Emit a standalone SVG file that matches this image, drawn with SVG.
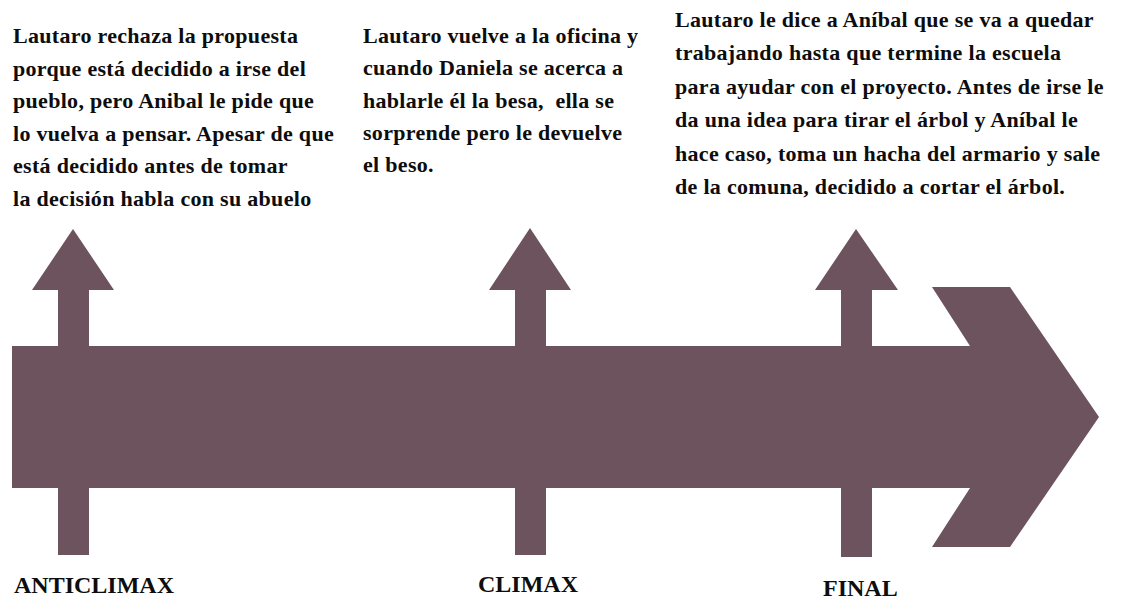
<svg xmlns="http://www.w3.org/2000/svg" width="1124" height="599" viewBox="0 0 1124 599">
<style>
.shape{fill:#6c535e}
.t{font-family:"Liberation Serif","Times New Roman",serif;font-weight:bold;font-size:22px;fill:#0d0d0d;letter-spacing:0.3px}
.lbl{font-family:"Liberation Serif","Times New Roman",serif;font-weight:bold;font-size:24px;fill:#0d0d0d}
</style>
<rect width="1124" height="599" fill="#ffffff"/>
<g id="connectors">
<polygon id="timeline" class="shape" points="12,346 970,346 932,287 1010,287 1099,417 1010,547 932,547 970,488 12,488"/>
<polygon class="shape" points="58,555 58,290 32,290 73,229 114,290 89,290 89,555"/>
<polygon class="shape" points="515,555 515,290 489,290 530,228 571,290 546,290 546,555"/>
<polygon class="shape" points="841,557 841,290 815,290 856,229 898,290 872,290 872,557"/>
</g>
<g id="node-anticlimax">
<text class="t" x="13" y="43">Lautaro rechaza la propuesta</text>
<text class="t" x="13" y="76">porque está decidido a irse del</text>
<text class="t" x="13" y="108">pueblo, pero Anibal le pide que</text>
<text class="t" x="13" y="141">lo vuelva a pensar. Apesar de que</text>
<text class="t" x="13" y="173">está decidido antes de tomar</text>
<text class="t" x="13" y="206">la decisión habla con su abuelo</text>
<text class="lbl" x="14" y="593">ANTICLIMAX</text>
</g>
<g id="node-climax">
<text class="t" x="363" y="43">Lautaro vuelve a la oficina y</text>
<text class="t" x="363" y="75">cuando Daniela se acerca a</text>
<text class="t" x="363" y="108" xml:space="preserve">hablarle él la besa,  ella se</text>
<text class="t" x="363" y="140">sorprende pero le devuelve</text>
<text class="t" x="363" y="172">el beso.</text>
<text class="lbl" x="478" y="592">CLIMAX</text>
</g>
<g id="node-final">
<text class="t" x="675" y="27">Lautaro le dice a Aníbal que se va a quedar</text>
<text class="t" x="675" y="60">trabajando hasta que termine la escuela</text>
<text class="t" x="675" y="94">para ayudar con el proyecto. Antes de irse le</text>
<text class="t" x="675" y="127">da una idea para tirar el árbol y Aníbal le</text>
<text class="t" x="675" y="161">hace caso, toma un hacha del armario y sale</text>
<text class="t" x="675" y="194">de la comuna, decidido a cortar el árbol.</text>
<text class="lbl" x="823" y="596">FINAL</text>
</g>
</svg>
